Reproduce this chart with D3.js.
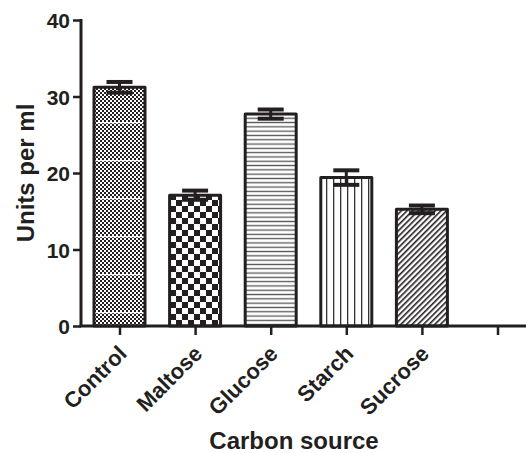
<!DOCTYPE html>
<html lang="en">
<head>
    <meta charset="UTF-8">
    <title>Carbon source bar chart</title>
    <script src="https://d3js.org/d3.v7.min.js"></script>
    <style>
        body { margin: 0; background: #fff; }
        text { font-family: "Liberation Sans", Arial, sans-serif; font-weight: bold; fill: #231f20; }
    </style>
</head>
<body>
    <svg width="526" height="453"></svg>

    <script>
        // Data
        const categories = ["Control", "Maltose", "Glucose", "Starch", "Sucrose"];
        const means = [31.2, 17.1, 27.7, 19.4, 15.25];
        const errors = [0.7, 0.6, 0.6, 0.95, 0.5];
        const patterns = ["fine", "checker", "hlines", "vlines", "diag"];
        const yTicks = [0, 10, 20, 30, 40];

        const width = 526, height = 453;
        const ink = "#231f20";
        const svg = d3.select("svg");

        // x positions: 5 categories plus one empty slot at the end
        const x = d3.scalePoint()
            .domain([...categories, "_empty"])
            .range([119.5, 497.5]);

        const y = d3.scaleLinear().domain([0, 40]).range([326, 20]);

        // Fill patterns
        const defs = svg.append("defs");

        const fine = defs.append("pattern").attr("id", "fine")
            .attr("patternUnits", "userSpaceOnUse").attr("width", 4).attr("height", 4);
        fine.append("rect").attr("width", 4).attr("height", 4).attr("fill", "#fff");
        fine.append("rect").attr("width", 2).attr("height", 2).attr("fill", ink);
        fine.append("rect").attr("x", 2).attr("y", 2).attr("width", 2).attr("height", 2).attr("fill", ink);

        const fineLines = defs.append("pattern").attr("id", "fineLines")
            .attr("patternUnits", "userSpaceOnUse").attr("width", 10).attr("height", 38)
            .attr("y", 122);
        fineLines.append("rect").attr("y", 0).attr("width", 10).attr("height", 1.2).attr("fill", "#fff");

        const checker = defs.append("pattern").attr("id", "checker")
            .attr("patternUnits", "userSpaceOnUse").attr("width", 12).attr("height", 12)
            .attr("x", 2).attr("y", 2);
        checker.append("rect").attr("width", 12).attr("height", 12).attr("fill", "#fff");
        checker.append("rect").attr("width", 6).attr("height", 6).attr("fill", ink);
        checker.append("rect").attr("x", 6).attr("y", 6).attr("width", 6).attr("height", 6).attr("fill", ink);

        const hlines = defs.append("pattern").attr("id", "hlines")
            .attr("patternUnits", "userSpaceOnUse").attr("width", 10).attr("height", 4.3);
        hlines.append("rect").attr("width", 10).attr("height", 4.3).attr("fill", "#fff");
        hlines.append("rect").attr("y", 1.5).attr("width", 10).attr("height", 1.3).attr("fill", "#555");

        const vlines = defs.append("pattern").attr("id", "vlines")
            .attr("patternUnits", "userSpaceOnUse").attr("width", 7).attr("height", 10)
            .attr("x", 1);
        vlines.append("rect").attr("width", 7).attr("height", 10).attr("fill", "#fff");
        vlines.append("rect").attr("x", 3).attr("width", 1.3).attr("height", 10).attr("fill", "#333");

        const diag = defs.append("pattern").attr("id", "diag")
            .attr("patternUnits", "userSpaceOnUse").attr("width", 4).attr("height", 4)
            .attr("patternTransform", "rotate(45)");
        diag.append("rect").attr("width", 4).attr("height", 4).attr("fill", "#fff");
        diag.append("rect").attr("width", 1.6).attr("height", 4).attr("fill", ink);

        const barW = 51;
        const data = categories.map((c, i) => ({ c, m: means[i], e: errors[i], p: patterns[i] }));

        // Bars
        svg.selectAll("rect.bar")
            .data(data)
            .enter().append("rect")
            .attr("class", "bar")
            .attr("x", d => x(d.c) - barW / 2)
            .attr("y", d => y(d.m))
            .attr("width", barW)
            .attr("height", d => y(0) - y(d.m))
            .attr("fill", d => `url(#${d.p})`)
            .attr("stroke", ink)
            .attr("stroke-width", 3)
            .attr("stroke-linejoin", "round");

        // white streaks in the Control fill
        svg.append("rect")
            .attr("x", x("Control") - barW / 2 + 2)
            .attr("y", y(means[0]) + 2)
            .attr("width", barW - 4)
            .attr("height", y(0) - y(means[0]) - 4)
            .attr("fill", "url(#fineLines)");

        // Error bars
        const capW = 26;
        const err = svg.selectAll("g.err").data(data).enter().append("g").attr("class", "err")
            .attr("stroke", ink).attr("stroke-width", 4);
        err.append("line")
            .attr("x1", d => x(d.c)).attr("x2", d => x(d.c))
            .attr("y1", d => y(d.m + d.e)).attr("y2", d => y(d.m - d.e))
            .attr("stroke-width", 3);
        err.append("line")
            .attr("x1", d => x(d.c) - capW / 2).attr("x2", d => x(d.c) + capW / 2)
            .attr("y1", d => y(d.m + d.e)).attr("y2", d => y(d.m + d.e));
        err.append("line")
            .attr("x1", d => x(d.c) - capW / 2).attr("x2", d => x(d.c) + capW / 2)
            .attr("y1", d => y(d.m - d.e)).attr("y2", d => y(d.m - d.e));

        // Y axis
        const yAxis = svg.append("g")
            .attr("transform", "translate(81,0)")
            .call(d3.axisLeft(y).tickValues(yTicks).tickSize(8).tickPadding(3));
        yAxis.select(".domain").attr("stroke", ink).attr("stroke-width", 3)
            .attr("d", `M0,${y(40) - 1}V${y(0)}`);
        yAxis.selectAll(".tick line").attr("stroke", ink).attr("stroke-width", 2.5);
        yAxis.selectAll(".tick text").style("font-size", "21px").attr("fill", ink)
            .attr("dy", "0.36em");

        // X axis
        const xAxis = svg.append("g")
            .attr("transform", `translate(0,${y(0)})`)
            .call(d3.axisBottom(x).tickSize(9).tickFormat(d => d === "_empty" ? "" : d));
        xAxis.select(".domain").attr("stroke", ink).attr("stroke-width", 3)
            .attr("d", `M79.5,0H${width}`);
        xAxis.selectAll(".tick line").attr("stroke", ink).attr("stroke-width", 2.5);
        xAxis.selectAll(".tick text")
            .style("font-size", "22px")
            .attr("fill", ink)
            .attr("text-anchor", "end")
            .attr("dy", null)
            .attr("y", 0)
            .attr("transform", "translate(8,29) rotate(-45)");

        // Axis titles
        svg.append("text")
            .attr("x", 294).attr("y", 449)
            .attr("text-anchor", "middle")
            .style("font-size", "24px")
            .text("Carbon source");

        svg.append("text")
            .attr("transform", `translate(34,${(y(0) + y(40)) / 2}) rotate(-90)`)
            .attr("text-anchor", "middle")
            .style("font-size", "24px")
            .text("Units per ml");
    </script>
</body>
</html>
